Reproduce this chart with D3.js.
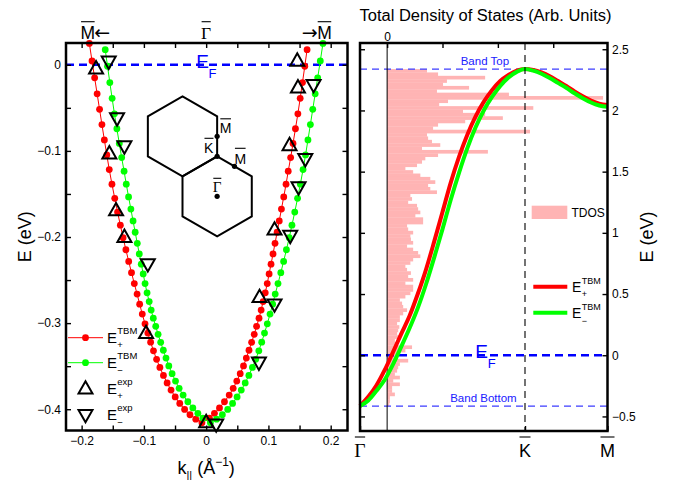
<!DOCTYPE html>
<html><head><meta charset="utf-8">
<script src="https://cdn.jsdelivr.net/npm/d3@7"></script>
<style>body{margin:0;background:#fff;}svg{display:block;}</style>
</head><body><svg id="c" width="684" height="480"></svg>
<script>
// ---------------- DATA ----------------
// Left panel: TBM bands (k in 1/Angstrom, E in eV)
const redK = [-0.1876,-0.1833,-0.1791,-0.1751,-0.1712,-0.1674,-0.1635,-0.1596,-0.1556,-0.1513,-0.1468,-0.1423,-0.1378,-0.1334,-0.1289,-0.1244,-0.1199,-0.1154,-0.1109,-0.1068,-0.1026,-0.0982,-0.0937,-0.0892,-0.0846,-0.0796,-0.0743,-0.0686,-0.0627,-0.0564,-0.0497,-0.0424,-0.0346,-0.0260,-0.0167,-0.0068,
 0.0053,0.0133,0.0214,0.0294,0.0370,0.0434,0.0492,0.0547,0.0600,0.0645,0.0688,0.0730,0.0772,0.0810,0.0849,0.0883,0.0915,0.0949,0.0981,0.1011,0.1042,0.1074,0.1106,0.1140,0.1174,0.1209,0.1246,0.1283,0.1318,0.1357,0.1395,0.1434,0.1473,0.1510,0.1547,0.1584,0.1621];
const redE = [0.0248,0.0044,-0.0151,-0.0337,-0.0517,-0.0694,-0.0872,-0.1047,-0.1217,-0.1386,-0.1551,-0.1710,-0.1863,-0.2008,-0.2148,-0.2283,-0.2414,-0.2541,-0.2663,-0.2780,-0.2895,-0.3008,-0.3116,-0.3221,-0.3322,-0.3420,-0.3515,-0.3607,-0.3694,-0.3778,-0.3857,-0.3933,-0.4002,-0.4064,-0.4115,-0.4157,
 -0.4105,-0.4047,-0.3985,-0.3913,-0.3836,-0.3757,-0.3673,-0.3587,-0.3497,-0.3406,-0.3315,-0.3223,-0.3130,-0.3037,-0.2943,-0.2848,-0.2750,-0.2648,-0.2541,-0.2429,-0.2315,-0.2197,-0.2073,-0.1945,-0.1813,-0.1676,-0.1534,-0.1387,-0.1236,-0.1078,-0.0913,-0.0743,-0.0569,-0.0390,-0.0206,-0.0017,0.0176];
const greenK = [-0.1621,-0.1584,-0.1547,-0.1510,-0.1473,-0.1434,-0.1395,-0.1357,-0.1318,-0.1283,-0.1246,-0.1209,-0.1174,-0.1140,-0.1106,-0.1074,-0.1042,-0.1011,-0.0981,-0.0949,-0.0915,-0.0883,-0.0849,-0.0810,-0.0772,-0.0730,-0.0688,-0.0645,-0.0600,-0.0547,-0.0492,-0.0434,-0.0370,-0.0294,-0.0214,-0.0133,-0.0053,
 0.0068,0.0167,0.0260,0.0346,0.0424,0.0497,0.0564,0.0627,0.0686,0.0743,0.0796,0.0846,0.0892,0.0937,0.0982,0.1026,0.1068,0.1109,0.1154,0.1199,0.1244,0.1289,0.1334,0.1378,0.1423,0.1468,0.1513,0.1556,0.1596,0.1635,0.1674,0.1712,0.1751,0.1791,0.1833,0.1876];
const greenE = [0.0176,-0.0017,-0.0206,-0.0390,-0.0569,-0.0743,-0.0913,-0.1078,-0.1236,-0.1387,-0.1534,-0.1676,-0.1813,-0.1945,-0.2073,-0.2197,-0.2315,-0.2429,-0.2541,-0.2648,-0.2750,-0.2848,-0.2943,-0.3037,-0.3130,-0.3223,-0.3315,-0.3406,-0.3497,-0.3587,-0.3673,-0.3757,-0.3836,-0.3913,-0.3985,-0.4047,-0.4105,
 -0.4157,-0.4115,-0.4064,-0.4002,-0.3933,-0.3857,-0.3778,-0.3694,-0.3607,-0.3515,-0.3420,-0.3322,-0.3221,-0.3116,-0.3008,-0.2895,-0.2780,-0.2663,-0.2541,-0.2414,-0.2283,-0.2148,-0.2008,-0.1863,-0.1710,-0.1551,-0.1386,-0.1217,-0.1047,-0.0872,-0.0694,-0.0517,-0.0337,-0.0151,0.0044,0.0248];
// Experimental points
const expPlusK  = [-0.1768,-0.1555,-0.1447,-0.1313,-0.0965,0.0000,0.0857,0.1098,0.1339,0.1474,0.1463];
const expPlusE  = [-0.0035,-0.1023,-0.1683,-0.1993,-0.3109,-0.4144,-0.2691,-0.1907,-0.0927,-0.0256,0.0054];
const expMinusK = [-0.1565,-0.1431,-0.1313,-0.0937,0.0161,0.0847,0.1098,0.1350,0.1484,0.1592,0.1725];
const expMinusE = [0.0030,-0.0628,-0.0953,-0.2322,-0.4183,-0.3465,-0.2790,-0.1993,-0.1430,-0.1101,-0.0241];
// Left axes ticks
const leftXTicks = [-0.2,-0.15,-0.1,-0.05,0,0.05,0.1,0.15,0.2];
const leftXLabels = [-0.2,-0.1,0,0.1,0.2];
const leftYTicks = [0,-0.05,-0.1,-0.15,-0.2,-0.25,-0.3,-0.35,-0.4];
const leftYLabels = [0,-0.1,-0.2,-0.3,-0.4];

// Right panel: TBM bands along Gamma-K-M path (path coordinate: K = 1, M = 1.5)
const pathQ = [0,0.05,0.1,0.15,0.2,0.25,0.3,0.35,0.4,0.45,0.5,0.55,0.6,0.65,0.7,0.75,0.8,0.85,0.9,0.95,1.0,1.05,1.1,1.15,1.2,1.25,1.3,1.35,1.4,1.45,1.5];
const bandPlusE  = [-0.415,-0.34,-0.245,-0.12,0.025,0.175,0.32,0.50,0.70,0.93,1.17,1.41,1.62,1.80,1.95,2.07,2.165,2.24,2.29,2.325,2.338,2.33,2.31,2.28,2.24,2.20,2.155,2.115,2.08,2.055,2.045];
const bandMinusE = [-0.415,-0.37,-0.29,-0.20,-0.075,0.07,0.22,0.385,0.58,0.80,1.03,1.27,1.49,1.69,1.86,2.00,2.11,2.20,2.27,2.315,2.338,2.325,2.30,2.265,2.225,2.185,2.14,2.10,2.065,2.04,2.03];
const pathLabels = ["Γ","K","M"];
const pathLabelQ = [0,1,1.5];
// Total DOS histogram, bins ordered from band top (2.338 eV) down to band bottom (-0.415 eV)
const bandTopE = 2.338, bandBottomE = -0.415, fermiE = 0;
const dosHighToLow = [0.72,0.92,1.77,1.08,1.01,1.48,0.90,2.20,3.90,1.10,
 0.94,2.64,1.37,1.77,2.09,1.41,0.92,0.83,2.58,0.72,
 0.74,0.81,0.96,0.63,1.82,0.92,0.69,0.63,0.54,0.33,
 0.47,0.60,0.78,0.87,0.74,0.78,0.90,0.42,0.45,0.38,
 0.54,0.56,0.60,0.51,0.65,0.65,0.36,0.38,0.47,0.42,
 0.43,0.47,0.36,0.47,0.56,0.60,0.47,0.42,0.33,0.36,
 0.43,0.38,0.47,0.33,0.47,0.47,0.42,0.33,0.23,0.27,
 0.29,0.36,0.29,0.23,0.23,0.18,0.22,0.20,0.18,0.23,
 0.14,0.18,0.45,0.33,0.23,0.18,0.38,0.23,0.20,0.18,
 0.14,0.23,0.11,0.23,0.09,0.09,0.14,0.05,0.05,0.04];
const rightYTicks = [-0.5,0,0.5,1,1.5,2,2.5];
const dosTicks = [0,1,2,3];

// ---------------- DRAW ----------------
const FONT = '"Liberation Sans", Arial, Helvetica, sans-serif';
const SERIF = '"Liberation Serif", "Times New Roman", serif';
const ARROWFONT = '"DejaVu Sans", sans-serif';
const svg = d3.select("#c");
svg.append("rect").attr("width",684).attr("height",480).attr("fill","#fff");
const fmt = d => String(d).replace("-", "\u2212");
const inList = (list, d) => list.some(v => Math.abs(v - d) < 1e-9);

function styleAxis(g){
  g.select(".domain").remove();
  g.selectAll(".tick line").attr("stroke","#000").attr("stroke-width",1.4);
  g.selectAll(".tick text").attr("font-family",FONT).attr("font-size",12).attr("fill","#000");
}
function barText(g, x, y, txt, size, family, barY, anchor){
  const t = g.append("text").attr("x",x).attr("y",y).attr("font-family",family).attr("font-size",size)
    .attr("text-anchor",anchor||"middle").attr("fill","#000").text(txt);
  const b = t.node().getBBox();
  g.append("line").attr("x1",b.x+0.5).attr("x2",b.x+b.width-0.5).attr("y1",barY).attr("y2",barY)
    .attr("stroke","#000").attr("stroke-width",1.1);
  return t;
}
function eLabel(g, x, y, sup, sub, size, small, color, supDy, subDy){
  const t = g.append("text").attr("x",x).attr("y",y).attr("font-family",FONT).attr("font-size",size).attr("fill",color).text("E");
  const w = t.node().getComputedTextLength();
  if (sup) g.append("text").attr("x",x+w+0.3).attr("y",y+supDy).attr("font-family",FONT).attr("font-size",small).attr("fill",color).text(sup);
  if (sub) g.append("text").attr("x",x+w+0.3).attr("y",y+subDy).attr("font-family",FONT).attr("font-size",small).attr("fill",color).text(sub);
}

// ===== Left panel =====
const L = {x0:66, x1:347.5, y0:43, y1:430.5};
const xL = d3.scaleLinear().domain([-0.2251,0.2270]).range([L.x0,L.x1]);
const yL = d3.scaleLinear().domain([-0.4247,0.0253]).range([L.y1,L.y0]);
const gL = svg.append("g");

// E_F line
gL.append("line").attr("x1",L.x0).attr("x2",L.x1).attr("y1",yL(fermiE)).attr("y2",yL(fermiE))
  .attr("stroke","#0000ff").attr("stroke-width",2.5).attr("stroke-dasharray","8,5");
gL.append("text").attr("x",xL(-0.016)).attr("y",yL(fermiE)+3.5).attr("font-family",FONT).attr("font-size",19).attr("fill","#0000ff").text("E");
gL.append("text").attr("x",xL(-0.016)+12.3).attr("y",yL(fermiE)+13).attr("font-family",FONT).attr("font-size",13).attr("fill","#0000ff").text("F");

// Brillouin-zone inset (schematic)
const hexR = d3.scaleLinear().domain([0,1]).range([0,40]);
const c1 = [182.5,136.3];
const c2 = [c1[0]+hexR(Math.sqrt(3)/2), c1[1]+hexR(1.5)];
const hexPts = c => d3.range(6).map(i => { const a = (-90 + 60*i)*Math.PI/180; return [c[0]+hexR(Math.cos(a)), c[1]+hexR(Math.sin(a))]; });
[c1,c2].forEach(c => gL.append("path").attr("d", d3.line()(hexPts(c)) + "Z").attr("fill","none").attr("stroke","#000").attr("stroke-width",2));
const ptM1 = [c1[0]+hexR(Math.sqrt(3)/2), c1[1]];
const ptK = [c1[0]+hexR(Math.sqrt(3)/2), c1[1]+hexR(0.5)];
const ptM2 = [c2[0]+hexR(Math.sqrt(3)/4), c2[1]-hexR(0.75)];
[ptM1,ptK,ptM2,c2].forEach(p => gL.append("circle").attr("cx",p[0]).attr("cy",p[1]).attr("r",2.6).attr("fill","#000"));
barText(gL, ptM1[0]+8.5, ptM1[1]-3, "M", 14, FONT, ptM1[1]-17.5);
barText(gL, ptK[0]-8.5, ptK[1]-3, "K", 14, FONT, ptK[1]-18);
barText(gL, ptM2[0]+5.8, ptM2[1]-2.8, "M", 14, FONT, ptM2[1]-18);
barText(gL, c2[0], c2[1]-4.6, "Γ", 15, SERIF, c2[1]-18);

// TBM curves
const lineL = d3.line().x(d => xL(d[0])).y(d => yL(d[1]));
function tbm(ks, es, color){
  const pts = ks.map((k,i) => [k, es[i]]);
  gL.append("path").attr("d", lineL(pts)).attr("fill","none").attr("stroke",color).attr("stroke-width",1);
  gL.append("g").selectAll("circle").data(pts).join("circle")
    .attr("cx", d => xL(d[0])).attr("cy", d => yL(d[1])).attr("r",3.4).attr("fill",color);
}
tbm(redK, redE, "#ff0000");
tbm(greenK, greenE, "#00ff00");

// experimental triangles
const triUp = "M0,-6.8L7,5.6L-7,5.6Z", triDown = "M0,6.8L7,-5.6L-7,-5.6Z";
function tri(ks, es, path){
  gL.append("g").selectAll("path").data(ks.map((k,i)=>[k,es[i]])).join("path")
    .attr("transform", d => `translate(${xL(d[0])},${yL(d[1])})`).attr("d", path)
    .attr("fill","none").attr("stroke","#000").attr("stroke-width",2);
}
tri(expPlusK, expPlusE, triUp);
tri(expMinusK, expMinusE, triDown);

// axes
gL.append("g").attr("transform",`translate(0,${L.y1})`)
  .call(d3.axisBottom(xL).tickValues(leftXTicks).tickSizeInner(-5).tickSizeOuter(0).tickPadding(6)
  .tickFormat(d => inList(leftXLabels,d) ? fmt(d) : "")).call(styleAxis);
gL.append("g").attr("transform",`translate(0,${L.y0})`)
  .call(d3.axisTop(xL).tickValues(leftXTicks).tickSizeInner(-5).tickSizeOuter(0).tickFormat("")).call(styleAxis);
gL.append("g").attr("transform",`translate(${L.x0},0)`)
  .call(d3.axisLeft(yL).tickValues(leftYTicks).tickSizeInner(-5).tickSizeOuter(0).tickPadding(5)
  .tickFormat(d => inList(leftYLabels,d) ? fmt(d) : "")).call(styleAxis);
gL.append("g").attr("transform",`translate(${L.x1},0)`)
  .call(d3.axisRight(yL).tickValues(leftYTicks).tickSizeInner(-5).tickSizeOuter(0).tickFormat("")).call(styleAxis);
gL.append("rect").attr("x",L.x0).attr("y",L.y0).attr("width",L.x1-L.x0).attr("height",L.y1-L.y0)
  .attr("fill","none").attr("stroke","#000").attr("stroke-width",2.5);

// top labels
barText(gL, xL(-0.19), 39, "M", 17.5, FONT, 21.7);
gL.append("text").attr("x",xL(-0.19)+6.3).attr("y",38.5).attr("font-family",ARROWFONT).attr("font-size",19).text("\u2190");
barText(gL, xL(0), 39, "Γ", 17.5, SERIF, 21.7);
barText(gL, xL(0.19), 39, "M", 17.5, FONT, 21.7);
gL.append("text").attr("x",xL(0.19)-6.8).attr("y",38.5).attr("font-family",ARROWFONT).attr("font-size",19).attr("text-anchor","end").text("\u2192");

// axis titles
gL.append("text").attr("transform",`translate(30.5,${(L.y0+L.y1)/2}) rotate(-90)`).attr("text-anchor","middle")
  .attr("font-family",FONT).attr("font-size",18).text("E (eV)");
{
  const t = gL.append("text").attr("x",xL(0)).attr("y",473.5).attr("text-anchor","middle").attr("font-family",FONT).attr("font-size",18);
  t.append("tspan").text("k");
  t.append("tspan").attr("font-size",11).attr("dy",5).text("||");
  t.append("tspan").attr("dy",-5).text(" (Å");
  t.append("tspan").attr("font-size",12).attr("dy",-8).text("\u22121");
  t.append("tspan").attr("dy",8).text(")");
}

// legend
{
  const lg = gL.append("g");
  const rows = [
    {y:337.7, color:"#ff0000", kind:"line", sup:"TBM", sub:"+", ty:342.5},
    {y:362.7, color:"#00ff00", kind:"line", sup:"TBM", sub:"\u2212", ty:368},
    {y:388, kind:"up", sup:"exp", sub:"+", ty:393.5},
    {y:415.5, kind:"down", sup:"exp", sub:"\u2212", ty:420}
  ];
  rows.forEach(r => {
    if (r.kind === "line") {
      lg.append("line").attr("x1",68).attr("x2",103).attr("y1",r.y).attr("y2",r.y).attr("stroke",r.color).attr("stroke-width",1);
      lg.append("circle").attr("cx",85.5).attr("cy",r.y).attr("r",3.4).attr("fill",r.color);
    } else {
      lg.append("path").attr("transform",`translate(85.5,${r.y})`).attr("d", r.kind==="up"?triUp:triDown)
        .attr("fill","none").attr("stroke","#000").attr("stroke-width",2);
    }
    eLabel(lg, 107, r.ty, r.sup, r.sub, 15, 9.5, "#000", -8.8, 5.5);
  });
}

// ===== Right panel =====
const R = {x0:360, x1:607.5, y0:43, y1:431};
const xR = d3.scaleLinear().domain([0,1.5]).range([R.x0,R.x1]);
const xD = d3.scaleLinear().domain([-0.49,3.98]).range([R.x0,R.x1]);
const yR = d3.scaleLinear().domain([-0.619,2.551]).range([R.y1,R.y0]);
const gR = svg.append("g");

// DOS bars
const yBin = d3.scaleBand().domain(d3.range(dosHighToLow.length)).range([yR(bandTopE), yR(bandBottomE)]).padding(0);
gR.append("g").selectAll("rect").data(dosHighToLow).join("rect")
  .attr("x", xD(0)).attr("y", (d,i) => yBin(i)).attr("width", d => xD(d) - xD(0)).attr("height", yBin.bandwidth()+0.3)
  .attr("fill","#ffb4b4");

// band top / bottom lines
[bandTopE, bandBottomE].forEach(e => gR.append("line").attr("x1",R.x0).attr("x2",R.x1).attr("y1",yR(e)).attr("y2",yR(e))
  .attr("stroke","#3d3dff").attr("stroke-width",1.2).attr("stroke-dasharray","7,5"));
gR.append("text").attr("x",xR(0.757)).attr("y",yR(bandTopE)-4.5).attr("text-anchor","middle").attr("font-family",FONT).attr("font-size",11.5).attr("fill","#2020ff").text("Band Top");
gR.append("text").attr("x",xR(0.748)).attr("y",yR(bandBottomE)-4).attr("text-anchor","middle").attr("font-family",FONT).attr("font-size",11.5).attr("fill","#2020ff").text("Band Bottom");

// Fermi level
gR.append("line").attr("x1",R.x0).attr("x2",R.x1).attr("y1",yR(fermiE)).attr("y2",yR(fermiE))
  .attr("stroke","#0000ff").attr("stroke-width",2.5).attr("stroke-dasharray","8,5");
gR.append("text").attr("x",xR(0.699)).attr("y",yR(fermiE)+3).attr("font-family",FONT).attr("font-size",19).attr("fill","#0000ff").text("E");
gR.append("text").attr("x",xR(0.699)+12.3).attr("y",yR(fermiE)+12.5).attr("font-family",FONT).attr("font-size",13).attr("fill","#0000ff").text("F");

// DOS zero line
gR.append("line").attr("x1",xD(0)).attr("x2",xD(0)).attr("y1",R.y0).attr("y2",R.y1).attr("stroke","#000").attr("stroke-width",1);

// band curves
const lineR = d3.line().x(d => xR(d[0])).y(d => yR(d[1])).curve(d3.curveMonotoneX);
gR.append("path").attr("d", lineR(pathQ.map((q,i)=>[q,bandPlusE[i]]))).attr("fill","none").attr("stroke","#ff0000").attr("stroke-width",4);
gR.append("path").attr("d", lineR(pathQ.map((q,i)=>[q,bandMinusE[i]]))).attr("fill","none").attr("stroke","#00ff00").attr("stroke-width",4);

// K vertical dashed line
gR.append("line").attr("x1",xR(1)).attr("x2",xR(1)).attr("y1",R.y0).attr("y2",R.y1)
  .attr("stroke","#000").attr("stroke-width",1.1).attr("stroke-dasharray","7,5");

// legend
gR.append("rect").attr("x",531.7).attr("y",205.7).attr("width",35.6).attr("height",13.3).attr("fill","#ffb4b4");
gR.append("text").attr("x",571.5).attr("y",216.5).attr("font-family",FONT).attr("font-size",12).text("TDOS");
[{y:286.7,c:"#ff0000",sub:"+",ty:291.8},{y:312.7,c:"#00ff00",sub:"\u2212",ty:318.3}].forEach(r => {
  gR.append("line").attr("x1",533.3).attr("x2",567.3).attr("y1",r.y).attr("y2",r.y).attr("stroke",r.c).attr("stroke-width",4);
  eLabel(gR, 572, r.ty, "TBM", r.sub, 14, 9, "#000", -8.3, 5.3);
});

// axes
gR.append("g").attr("transform",`translate(${R.x1},0)`)
  .call(d3.axisRight(yR).tickValues(rightYTicks).tickSizeInner(-5).tickSizeOuter(0).tickPadding(4.5).tickFormat(fmt)).call(styleAxis);
gR.append("g").attr("transform",`translate(${R.x0},0)`)
  .call(d3.axisLeft(yR).tickValues(rightYTicks).tickSizeInner(-5).tickSizeOuter(0).tickFormat("")).call(styleAxis);
gR.append("g").attr("transform",`translate(0,${R.y0})`)
  .call(d3.axisTop(xD).tickValues(dosTicks).tickSizeInner(-5).tickSizeOuter(0).tickPadding(2.5).tickFormat(d => d===0 ? "0" : "")).call(styleAxis);
gR.append("g").attr("transform",`translate(0,${R.y1})`)
  .call(d3.axisBottom(xR).tickValues(pathLabelQ).tickSizeInner(-5).tickSizeOuter(0).tickFormat("")).call(styleAxis);
gR.append("rect").attr("x",R.x0).attr("y",R.y0).attr("width",R.x1-R.x0).attr("height",R.y1-R.y0)
  .attr("fill","none").attr("stroke","#000").attr("stroke-width",2.5);

// path labels
pathLabelQ.forEach((q,i) => {
  const isG = pathLabels[i] === "Γ";
  barText(gR, xR(q), 456.7, pathLabels[i], isG ? 19.5 : 18, isG ? SERIF : FONT, 437);
});

// titles
svg.append("text").attr("x",359.5).attr("y",20.5).attr("font-family",FONT).attr("font-size",16)
  .attr("textLength",252).attr("lengthAdjust","spacingAndGlyphs")
  .text("Total Density of States (Arb. Units)");
svg.append("text").attr("transform",`translate(652.5,${(R.y0+R.y1)/2}) rotate(-90)`).attr("text-anchor","middle")
  .attr("font-family",FONT).attr("font-size",18).text("E (eV)");
</script></body></html>
